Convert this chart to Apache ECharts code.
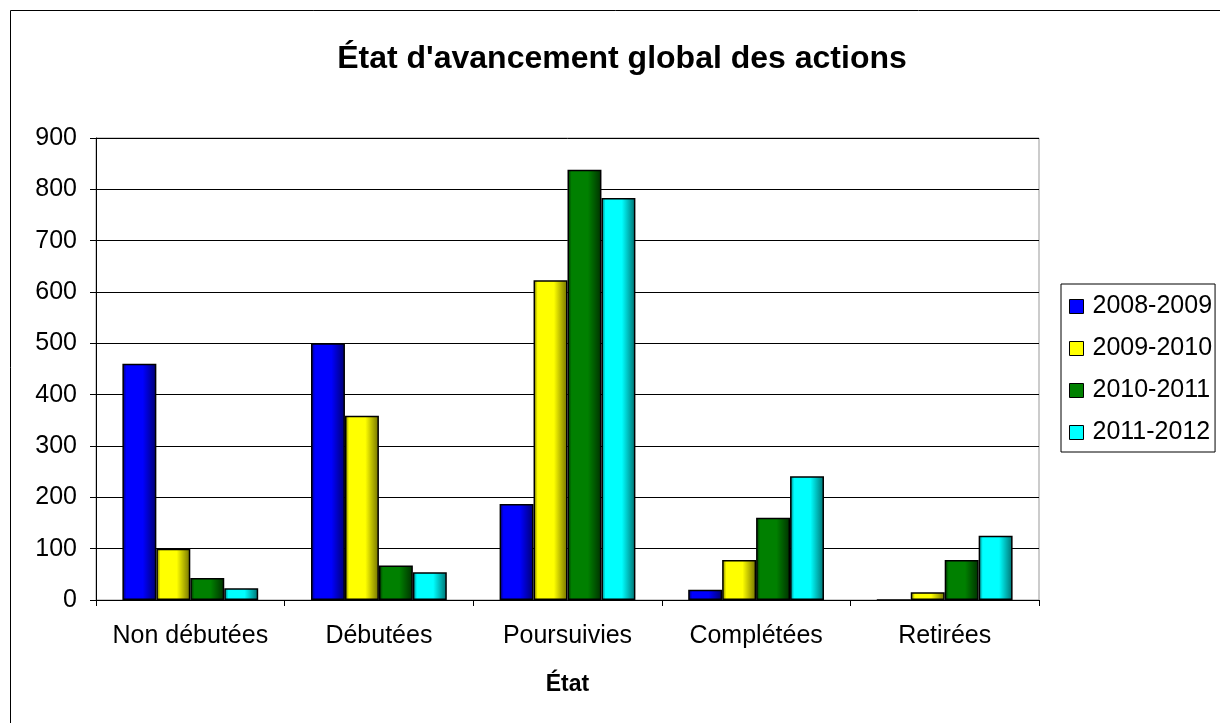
<!DOCTYPE html>
<html>
<head>
<meta charset="utf-8">
<script src="https://cdn.jsdelivr.net/npm/echarts@6/dist/echarts.min.js"></script>
<style>
  html, body { margin: 0; padding: 0; background: #fff; }
  #main { width: 1220px; height: 723px; }
</style>
</head>
<body>
<div id="main"></div>
<script>
// données
const categories = ["Non débutées", "Débutées", "Poursuivies", "Complétées", "Retirées"];
const seriesNames = ["2008-2009", "2009-2010", "2010-2011", "2011-2012"];
const values2008 = [460, 500, 187, 20, 0];
const values2009 = [100, 359, 623, 78, 15];
const values2010 = [43, 67, 838, 160, 78];
const values2011 = [23, 54, 783, 241, 125];
const yTicks = [0, 100, 200, 300, 400, 500, 600, 700, 800, 900];

const colors = ["#0000ff", "#ffff00", "#008000", "#00ffff"];
const darks = ["#000070", "#707000", "#003000", "#007070"];
const allValues = [values2008, values2009, values2010, values2011];

let myChart = echarts.init(document.getElementById("main"));

function shade(i) {
  return new echarts.graphic.LinearGradient(0, 0, 1, 0, [
    { offset: 0, color: darks[i] },
    { offset: 0.12, color: colors[i] },
    { offset: 0.6, color: colors[i] },
    { offset: 1, color: darks[i] }
  ]);
}

myChart.setOption({
  animation: false,
  textStyle: { fontFamily: "Liberation Sans, Arial, sans-serif" },
  title: {
    text: "État d'avancement global des actions",
    left: 617,
    textAlign: "center",
    top: 38,
    textStyle: { fontSize: 32, fontWeight: "bold", color: "#000" }
  },
  graphic: [
    {
      type: "rect",
      shape: { x: 10.5, y: 10.5, width: 1220, height: 720 },
      style: { fill: "none", stroke: "#000", lineWidth: 1 },
      silent: true
    }
  ],
  grid: {
    left: 96,
    right: 181,
    top: 138,
    bottom: 123,
    show: true,
    borderColor: "#999",
    borderWidth: 1
  },
  legend: {
    orient: "vertical",
    left: 1061,
    top: 284,
    padding: [10, 3, 7, 8],
    itemGap: 17,
    itemWidth: 14,
    itemHeight: 14,
    borderColor: "#000",
    borderWidth: 1,
    textStyle: { fontSize: 25, color: "#000", padding: [0, 0, 0, 4] },
    data: seriesNames.map((n, i) => ({
      name: n,
      icon: "rect",
      itemStyle: { color: colors[i], borderColor: "#000", borderWidth: 1 }
    }))
  },
  xAxis: {
    type: "category",
    data: categories,
    name: "État",
    nameLocation: "middle",
    nameGap: 73,
    nameTextStyle: { fontSize: 23, fontWeight: "bold", color: "#000" },
    axisLine: { show: true, lineStyle: { color: "#000", width: 1 } },
    axisTick: { show: true, length: 6, lineStyle: { color: "#000" } },
    axisLabel: { fontSize: 25, color: "#000", margin: 24, interval: 0 },
    z: 10
  },
  yAxis: {
    type: "value",
    min: 0,
    max: 900,
    interval: 100,
    axisLine: { show: true, lineStyle: { color: "#000", width: 1 } },
    axisTick: { show: true, length: 6, lineStyle: { color: "#000" } },
    axisLabel: {
      fontSize: 25,
      color: "#000",
      margin: 19,
      formatter: v => (yTicks.indexOf(v) >= 0 ? String(v) : "")
    },
    splitLine: { show: true, lineStyle: { color: "#000", width: 1 } }
  },
  series: seriesNames.map((n, i) => ({
    name: n,
    type: "bar",
    data: allValues[i],
    barGap: "0%",
    barCategoryGap: "28%",
    itemStyle: {
      color: shade(i),
      borderColor: "#000",
      borderWidth: 1.5
    }
  }))
});
</script>
</body>
</html>
